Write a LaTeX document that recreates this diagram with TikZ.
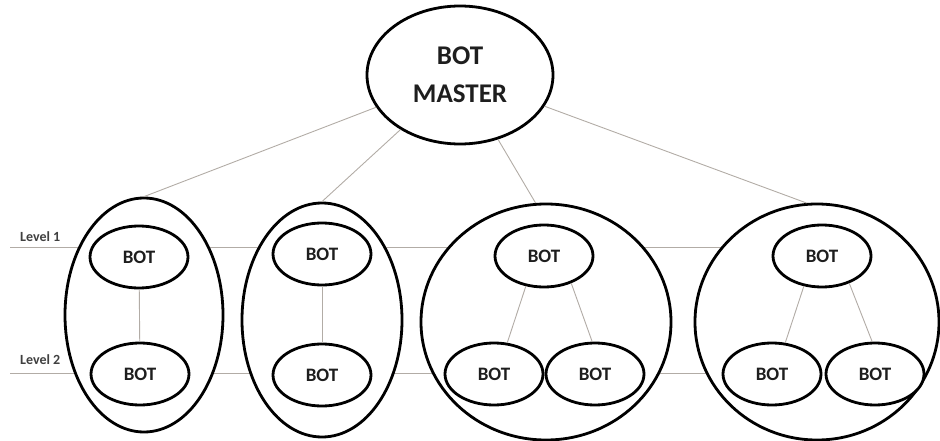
\documentclass[tikz,border=0pt]{standalone}
\usepackage{fontspec}
\setmainfont{Carlito}
\usetikzlibrary{shapes.geometric,backgrounds}
\definecolor{ink}{RGB}{30,30,30}
\definecolor{wire}{RGB}{178,172,166}
\tikzset{
  cluster/.style={ellipse, draw=black, line width=2.8pt, fill=white, inner sep=0pt},
  botnode/.style={ellipse, draw=black, line width=2.8pt, fill=white, inner sep=0pt,
    minimum width=98pt, minimum height=62pt, text=ink,
    font=\fontsize{19}{20}\selectfont\bfseries},
  masternode/.style={ellipse, draw=black, line width=2.8pt, fill=white, inner sep=0pt,
    minimum width=186pt, minimum height=138pt, text=ink, align=center,
    font=\fontsize{27}{38}\selectfont\bfseries},
  link/.style={draw=wire, line width=0.9pt},
  levellabel/.style={anchor=west, inner sep=0pt, text=ink!85,
    font=\fontsize{14}{16}\selectfont\bfseries}
}
\begin{document}
\begin{tikzpicture}[x=1pt, y=-1pt]
\useasboundingbox (0,0) rectangle (940,441);

% level labels and the start points of the level guide lines
\coordinate (lv1) at (10,247);
\coordinate (lv2) at (10,373);
\node[levellabel] (lab1) at (20,237) {Level 1};
\node[levellabel] (lab2) at (20,360) {Level 2};

% clusters
\node[cluster, minimum width=158pt, minimum height=234pt] (c1) at (144,315) {};
\node[cluster, minimum width=160pt, minimum height=234pt] (c2) at (322,320) {};
\node[cluster, minimum width=250pt, minimum height=236pt] (c3) at (546,322) {};
\node[cluster, minimum width=244pt, minimum height=236pt] (c4) at (817,322) {};

% bot master
\node[masternode] (master) at (460,75) {BOT\\MASTER};

% level guide lines run behind the white clusters
\begin{pgfonlayer}{background}
  \draw[link] (lv1) -- (lv1 -| c4.center);
  \draw[link] (lv2) -- (lv2 -| c4.center);
\end{pgfonlayer}

% master to clusters
\draw[link] (master) -- (c1.north);
\draw[link] (master) -- (c2.north);
\draw[link] (master) -- (c3.95);
\draw[link] (master) -- (c4.95);

% bots, level 1 and level 2
\node[botnode] (b1a) at (139,257) {BOT};
\node[botnode] (b1b) at (140,374) {BOT};
\node[botnode] (b2a) at (322,254) {BOT};
\node[botnode] (b2b) at (322,375) {BOT};
\node[botnode] (b3a) at (544,256) {BOT};
\node[botnode] (b3b) at (494,374) {BOT};
\node[botnode] (b3c) at (595,374) {BOT};
\node[botnode] (b4a) at (822,256) {BOT};
\node[botnode] (b4b) at (772,374) {BOT};
\node[botnode] (b4c) at (875,374) {BOT};

% links inside the clusters
\draw[link] (b1a) -- (b1b);
\draw[link] (b2a) -- (b2b);
\draw[link] (b3a.-121) -- (b3b.67);
\draw[link] (b3a.-45) -- (b3c.95);
\draw[link] (b4a.-121) -- (b4b.67);
\draw[link] (b4a.-45) -- (b4c.95);
\end{tikzpicture}
\end{document}
